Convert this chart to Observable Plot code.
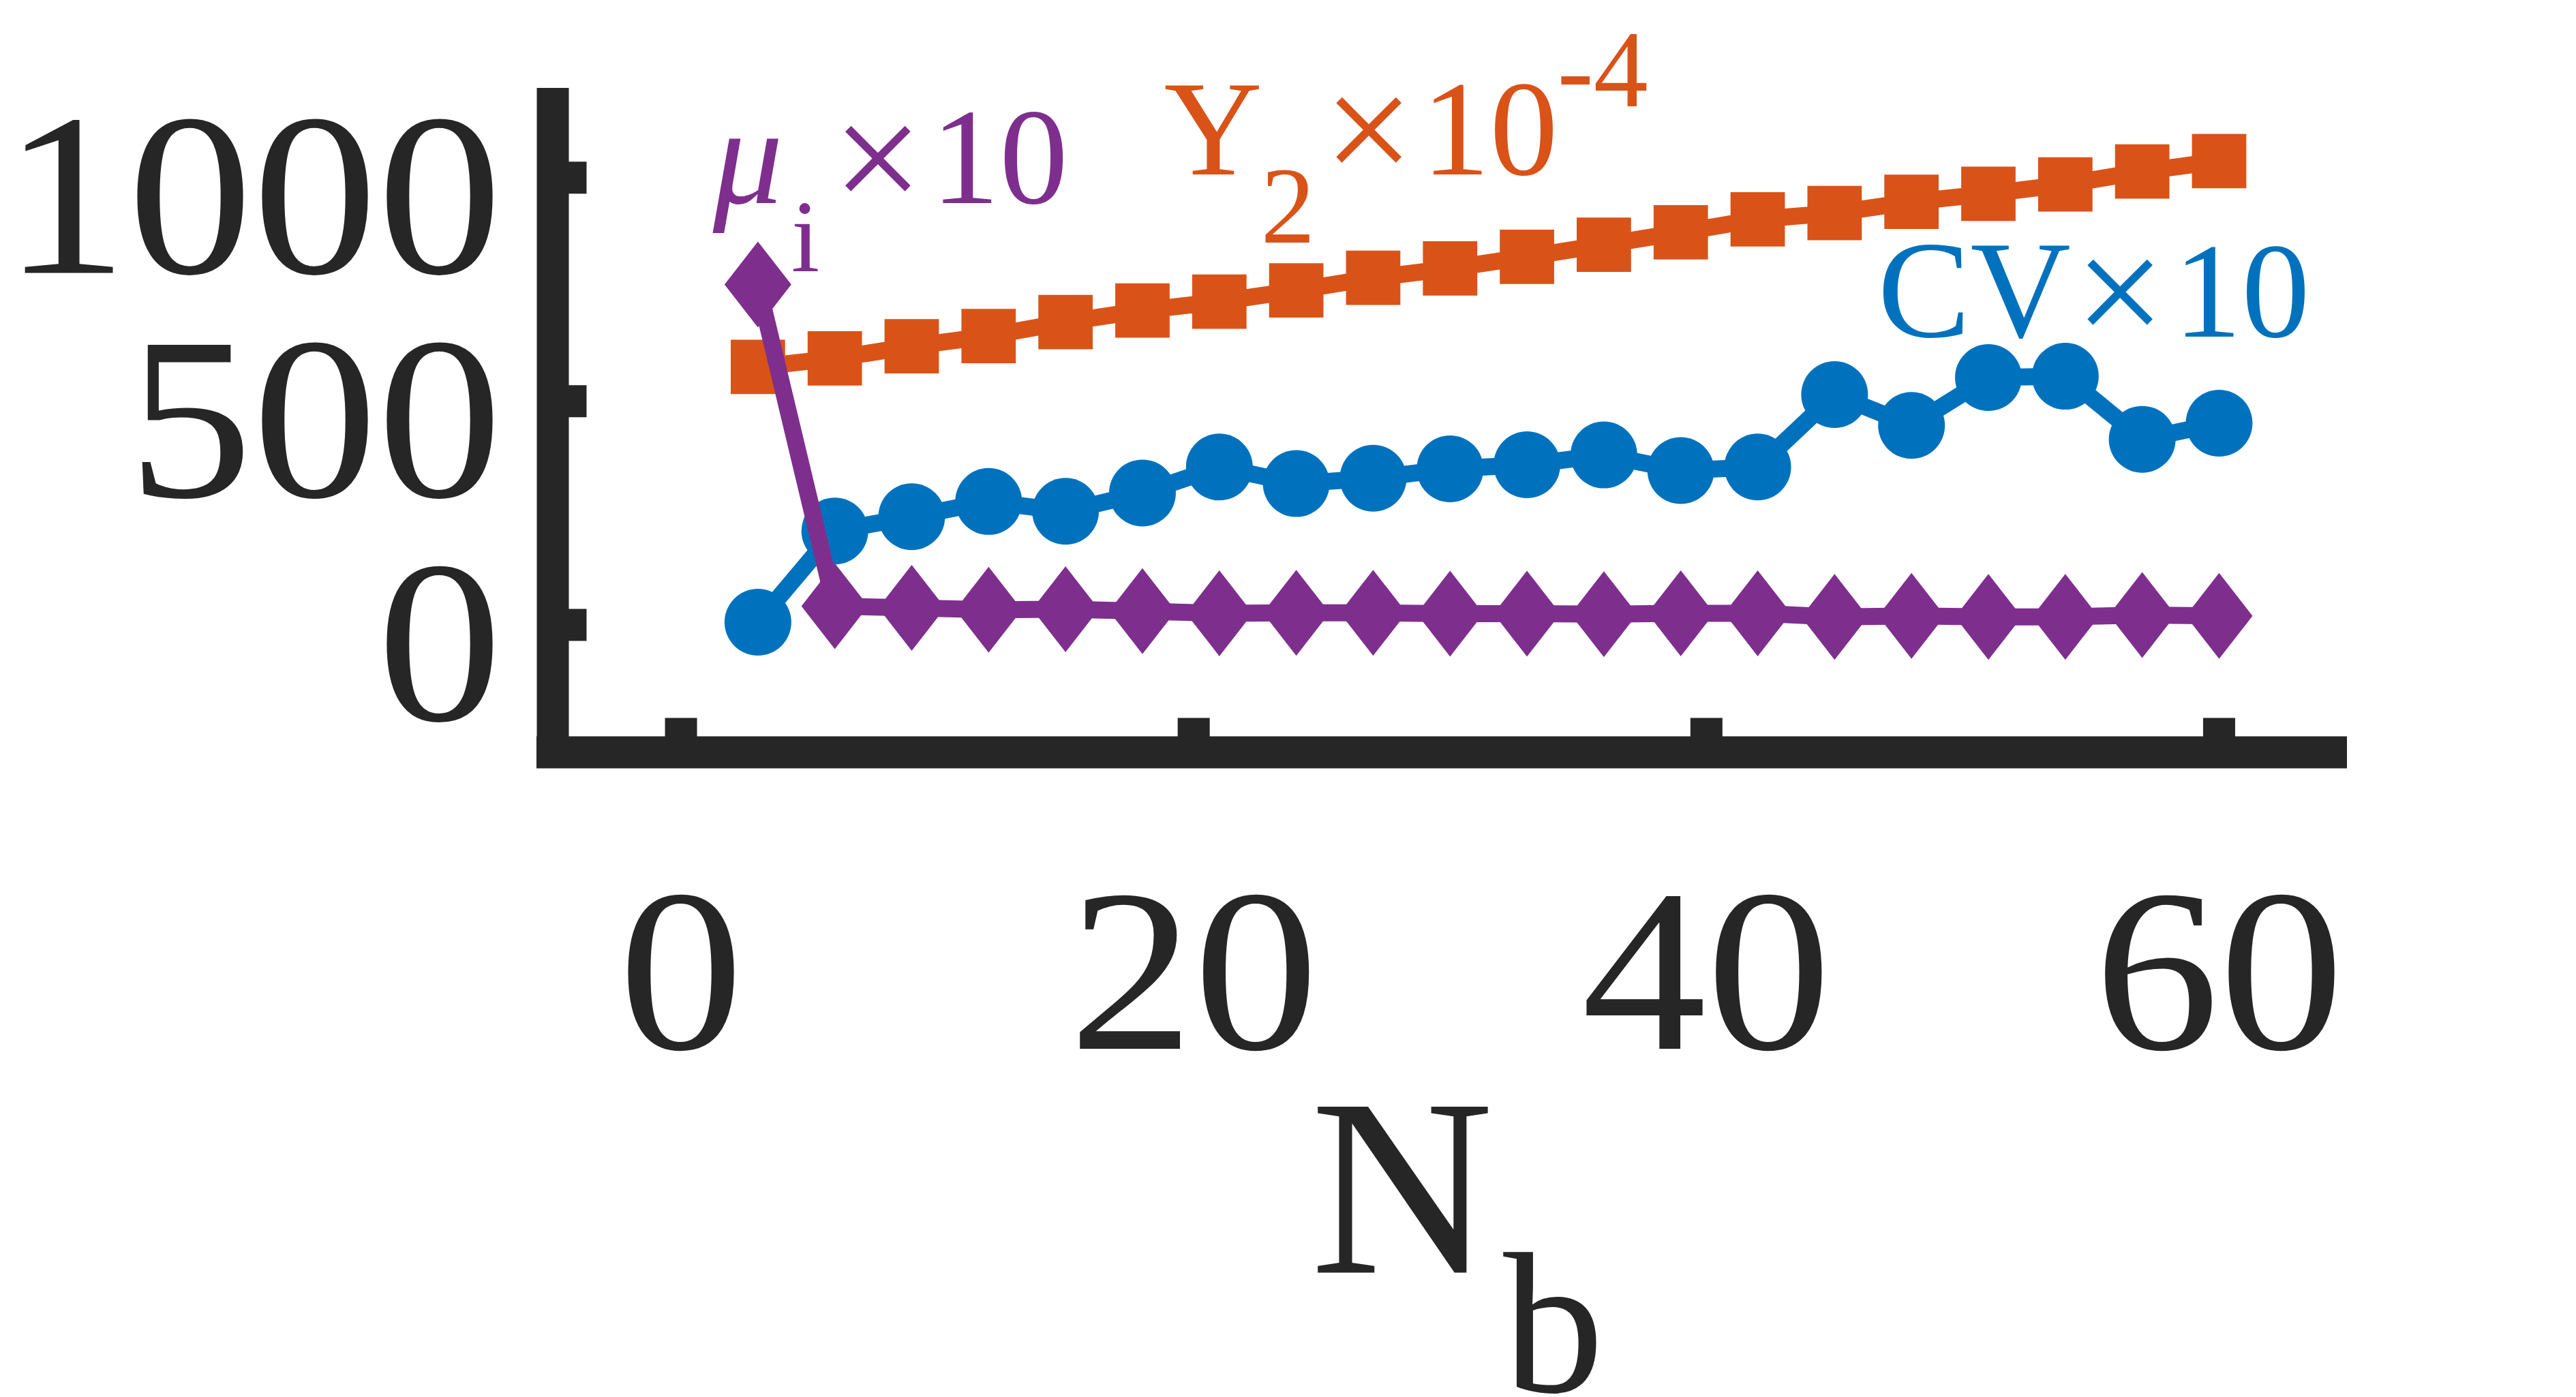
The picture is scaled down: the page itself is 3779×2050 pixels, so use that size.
<!DOCTYPE html>
<html>
<head>
<meta charset="utf-8">
<script src="https://cdn.jsdelivr.net/npm/d3@7"></script>
<script src="https://cdn.jsdelivr.net/npm/@observablehq/plot@0.6"></script>
<style>
  html, body { margin: 0; padding: 0; background: #ffffff; }
  svg { display: block; }
</style>
</head>
<body>
<div id="chart"></div>
<script>
// ---- data ----
const Nb   = [3, 6, 9, 12, 15, 18, 21, 24, 27, 30, 33, 36, 39, 42, 45, 48, 51, 54, 57, 60];
const Y2   = [577, 596, 623, 646, 677, 703, 723, 748, 776, 797, 823, 850, 878, 907, 921, 946, 964, 985, 1014, 1037]; // Y2 x 10^-4
const CV   = [6, 210, 242, 276, 254, 295, 353, 316, 328, 349, 358, 380, 345, 353, 515, 446, 553, 556, 415, 451];      // CV x 10
const MU   = [761, 42, 38, 34, 35, 31, 26, 27, 27, 25, 25, 24, 26, 26, 18, 20, 18, 18, 22, 20];                      // mu_i x 10
const xTicks = [0, 20, 40, 60];
const yTicks = [0, 500, 1000];
const xDomain = [-5, 65];
const yDomain = [-285, 1200];

// ---- styling ----
const W = 3779, H = 2050;
const mL = 810.5, mR = 336, mT = 129, mB = 946.5;
const axisColor = "#262626";
const cOrange = "#D95319", cBlue = "#0072BD", cPurple = "#7E2F8E";
const axisW = 47, tickLen = 50;
const lineW = 25;
const font = "'Liberation Serif', 'Times New Roman', serif";
const tickFont = 340, tickAdvance = 183; // tick labels are slightly wider than plain Times

const rows = (vals) => Nb.map((n, i) => ({n, v: vals[i]}));

// MATLAB-like diamond (taller than wide)
const diamond = {
  draw(ctx, size) {
    const r = Math.sqrt(size / Math.PI);
    const h = r * 126 / 98;
    ctx.moveTo(0, -h); ctx.lineTo(r, 0); ctx.lineTo(0, h); ctx.lineTo(-r, 0); ctx.closePath();
  }
};

// annotation groups: anchor in data coords, pieces offset in px
const annotations = [
  {x: 1.24, y: 942.5, color: cPurple, pieces: [
    {t: "μ", dx: 0, dy: 0, size: 205, italic: true},
    {t: "i", dx: 115, dy: 100, size: 150},
    {t: "×", dx: 242, dy: 13, size: 235, mid: true},
    {t: "10", dx: 320, dy: 0, size: 201}
  ]},
  {x: 18.84, y: 1006.5, color: cOrange, pieces: [
    {t: "Y", dx: 0, dy: 0, size: 200},
    {t: "2", dx: 142, dy: 100, size: 160},
    {t: "×", dx: 300.5, dy: 13, size: 235, mid: true},
    {t: "10", dx: 378, dy: 0, size: 200},
    {t: "-4", dx: 577, dy: -100, size: 160}
  ]},
  {x: 46.68, y: 644, color: cBlue, pieces: [
    {t: "CV", dx: 0, dy: 0, size: 204},
    {t: "×", dx: 355.5, dy: 13, size: 235, mid: true},
    {t: "10", dx: 434, dy: 0, size: 200}
  ]}
];

const annotationMarks = annotations.flatMap(g => g.pieces.map(p =>
  Plot.text([g], {
    x: "x", y: "y", text: () => p.t,
    dx: p.dx, dy: p.dy,
    fontSize: p.size,
    fontStyle: p.italic ? "italic" : "normal",
    textAnchor: p.mid ? "middle" : "start",
    lineAnchor: "bottom",
    fill: g.color
  })
));

const chart = Plot.plot({
  width: W, height: H,
  marginLeft: mL, marginRight: mR, marginTop: mT, marginBottom: mB,
  x: {domain: xDomain},
  y: {domain: yDomain},
  style: {fontFamily: font, background: "#ffffff", color: axisColor, overflow: "visible"},
  marks: [
    // axis lines (MATLAB box off, thick)
    Plot.ruleX([xDomain[0]], {x: d => d, y1: yDomain[1], y2: yDomain[0], stroke: axisColor, strokeWidth: axisW, insetBottom: -axisW / 2}),
    Plot.ruleY([yDomain[0]], {y: d => d, x1: xDomain[0], x2: xDomain[1], stroke: axisColor, strokeWidth: axisW, insetLeft: -axisW / 2}),
    // inward ticks
    Plot.ruleX(xTicks, {x: d => d, y1: yDomain[0], y2: yDomain[0], stroke: axisColor, strokeWidth: axisW, insetTop: -tickLen}),
    Plot.ruleY(yTicks, {y: d => d, x1: xDomain[0], x2: xDomain[0], stroke: axisColor, strokeWidth: axisW, insetRight: -tickLen}),
    // tick labels
    Plot.axisX({ticks: xTicks, tickSize: 0, tickPadding: 193.5, fontSize: tickFont, fill: axisColor, label: null, tickFormat: d => String(d)}),
    Plot.axisY({ticks: yTicks, tickSize: 0, tickPadding: 74.5, fontSize: tickFont, dy: 31, fill: axisColor, label: null, tickFormat: d => String(d)}),
    // x label N_b
    Plot.text(["N"], {frameAnchor: "bottom", text: d => d, dx: -204.75, dy: 763.5, textAnchor: "start", lineAnchor: "bottom", fontSize: 372, fill: axisColor}),
    Plot.text(["b"], {frameAnchor: "bottom", text: d => d, dx: 78, dy: 938, textAnchor: "start", lineAnchor: "bottom", fontSize: 295, fill: axisColor}),
    // Y2 x 10^-4
    Plot.line(rows(Y2), {x: "n", y: "v", stroke: cOrange, strokeWidth: lineW, strokeLinejoin: "round"}),
    Plot.dot(rows(Y2), {x: "n", y: "v", symbol: "square", r: 45, fill: cOrange, stroke: "none"}),
    // CV x 10
    Plot.line(rows(CV), {x: "n", y: "v", stroke: cBlue, strokeWidth: lineW, strokeLinejoin: "round"}),
    Plot.dot(rows(CV), {x: "n", y: "v", r: 49, fill: cBlue, stroke: "none"}),
    // mu_i x 10
    Plot.line(rows(MU), {x: "n", y: "v", stroke: cPurple, strokeWidth: lineW, strokeLinejoin: "round"}),
    Plot.dot(rows(MU), {x: "n", y: "v", symbol: diamond, r: 49, fill: cPurple, stroke: "none"}),
    ...annotationMarks
  ]
});

// widen the tick labels a little (the reference's digits are spaced wider than plain Times)
d3.select(chart)
  .selectAll('g[aria-label="x-axis tick label"] text, g[aria-label="y-axis tick label"] text')
  .attr("textLength", function () { return this.textContent.length * tickAdvance; })
  .attr("lengthAdjust", "spacingAndGlyphs");

document.getElementById("chart").appendChild(chart);
</script>
</body>
</html>
